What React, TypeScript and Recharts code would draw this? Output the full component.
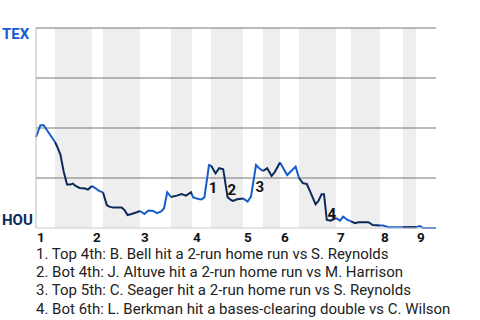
import React from 'react';
import { LineChart, Line, XAxis, YAxis, ReferenceArea, ReferenceLine, ReferenceDot } from 'recharts';

// game progress (0 = first pitch, 100 = final out) and Texas win probability (%)
const progress = [
  0, 1.1, 1.9, 4.75,
  5.25, 6.1, 6.9, 7.75, 8.6, 9.2, 9.8, 10.9, 12.3, 13, 14,
  15, 15.9, 16.75,
  17.7, 18.3, 19.3, 21.4, 22.1, 22.9, 23.9, 25.2, 26,
  27.1, 28.1, 29.3, 30.2, 31.2, 32, 32.8, 33.75,
  35.2, 36.4, 37.5, 38.75, 39,
  39.3, 40.6, 41.4, 42.1, 43.25, 43.75,
  44.9, 45.8, 46.8, 47.9, 48.7, 49.2, 50.3, 51.75,
  52.9, 53.75, 55, 55.8, 56.75,
  57.8, 58.9, 59.75, 61,
  62.8, 64.9, 65.75,
  66.7, 67.7, 68.7, 69.9, 70.6, 71.4, 72, 72.7, 73.7, 75,
  76, 76.8, 77.9, 78.75,
  79.75, 80.6, 83.1, 84.2, 86,
  86.8, 88.1, 91.75,
  95,
  96, 96.8, 100,
];
const texWinPct = [
  45.5, 51.4, 51.4, 43,
  40.9, 36.7, 28.4, 21.7, 21.7, 22.2, 21.2, 20, 19.7, 19.2, 21,
  19.7, 18.4, 17.8,
  11.5, 10.7, 10.2, 10.2, 9, 6.5, 7, 7.9, 8.5,
  7, 8.7, 8.5, 7.4, 8.2, 9.8, 17.9, 15.5,
  16.2, 17, 16.2, 17.9, 16.7,
  15.3, 14.5, 14.3, 15.3, 31.5, 31.2,
  27.3, 29.9, 29.4, 15.4, 14, 13.5, 14.4, 14.8,
  13.2, 15.7, 31.5, 29.9, 28.5,
  29.9, 26, 28.2, 32.7,
  26.5, 30.7, 25,
  22.4, 22, 17.4, 11.8, 13.5, 16.9, 16.9, 4, 3.7, 5,
  3.7, 5.7, 4, 3.3,
  2.4, 2.9, 2.9, 1.5, 1.3,
  1.2, 0.4, 0.4,
  0.4,
  1, 0, 0,
];

// start of each half inning (top 1st, bot 1st, top 2nd, ...), and game end
const halfInningStarts = [0, 4.75, 14, 16.75, 26, 33.75, 39, 43.75, 51.75, 56.75, 61, 65.75, 75, 78.75, 86, 91.75, 95];
const gameEnd = 100;
const inningLabels = ['1', '2', '3', '4', '5', '6', '7', '8', '9'];
const inningStarts = halfInningStarts.filter((_, i) => i % 2 === 0);

const gridValues = [25, 50, 75, 100];
const teamTop = 'TEX';
const teamBottom = 'HOU';

const keyPlayAt = [43.25, 47.9, 55, 72.7];
const keyPlayLabels = ['1', '2', '3', '4'];
const keyPlayTexts = [
  'Top 4th: B. Bell hit a 2-run home run vs S. Reynolds',
  'Bot 4th: J. Altuve hit a 2-run home run vs M. Harrison',
  'Top 5th: C. Seager hit a 2-run home run vs S. Reynolds',
  'Bot 6th: L. Berkman hit a bases-clearing double vs C. Wilson',
];

const BLUE = '#155ccc';
const NAVY = '#0c2b5b';
const FONT = 'Roboto, "Noto Sans", sans-serif';
const EPS = 1e-6;

const halfEnds = halfInningStarts.map((s, k) => (k + 1 < halfInningStarts.length ? halfInningStarts[k + 1] : gameEnd));

const rows = progress.map((x, i) => {
  let inTop = false;
  let inBot = false;
  halfInningStarts.forEach((s, k) => {
    if (x >= s - EPS && x <= halfEnds[k] + EPS) {
      if (k % 2 === 0) inTop = true;
      else inBot = true;
    }
  });
  const v = texWinPct[i];
  return { x, top: inTop ? v : null, bot: inBot ? v : null };
});

const keyPlayPoints = keyPlayAt.map((at, j) => {
  const i = progress.findIndex((p) => Math.abs(p - at) < EPS);
  return {
    x: (progress[i - 1] + progress[i]) / 2,
    y: (texWinPct[i - 1] + texWinPct[i]) / 2,
    label: keyPlayLabels[j],
  };
});

const XTick = (props: any) => {
  const { x, y, payload } = props;
  const idx = inningStarts.findIndex((s) => Math.abs(s - payload.value) < EPS);
  return (
    <text x={x} y={y} dx={1} dy={6} textAnchor="start" fontFamily={FONT} fontWeight="bold" fontSize={13.5} fill="#111">
      {idx >= 0 ? inningLabels[idx] : ''}
    </text>
  );
};

const YTick = (props: any) => {
  const { y, payload } = props;
  if (payload.value === 100) {
    return (
      <text x={2} y={y + 11} textAnchor="start" fontFamily={FONT} fontWeight="bold" fontSize={15} fill={BLUE}>
        {teamTop}
      </text>
    );
  }
  if (payload.value === 0) {
    return (
      <text x={2} y={y - 3} textAnchor="start" fontFamily={FONT} fontWeight="bold" fontSize={15} fill={NAVY}>
        {teamBottom}
      </text>
    );
  }
  return <g />;
};

export default function App() {
  return (
    <div style={{ position: 'absolute', left: 0, top: 0, width: 480, height: 320, background: '#fff', fontFamily: FONT }}>
      <LineChart width={480} height={250} data={rows} margin={{ top: 28, right: 44, bottom: 0, left: 0 }}>
        {halfInningStarts.map((s, k) =>
          k % 2 === 1 ? (
            <ReferenceArea key={'b' + k} x1={s} x2={halfEnds[k]} y1={0} y2={100} fill="#eeeeee" fillOpacity={1} stroke="none" ifOverflow="visible" />
          ) : null
        )}
        <XAxis
          type="number"
          dataKey="x"
          domain={[0, gameEnd]}
          ticks={inningStarts}
          interval={0}
          tick={<XTick />}
          tickLine={false}
          axisLine={{ stroke: '#cccccc' }}
          height={22}
        />
        <YAxis
          type="number"
          domain={[0, 100]}
          ticks={[0, 25, 50, 75, 100]}
          interval={0}
          width={36}
          tick={<YTick />}
          tickLine={false}
          axisLine={{ stroke: '#bbbbbb' }}
        />
        {gridValues.map((v) => (
          <ReferenceLine key={'g' + v} y={v} stroke="#777777" strokeWidth={1} ifOverflow="visible" />
        ))}
        <Line type="linear" dataKey="top" stroke={BLUE} strokeWidth={2} dot={false} activeDot={false} isAnimationActive={false} connectNulls={false} />
        <Line type="linear" dataKey="bot" stroke={NAVY} strokeWidth={2} dot={false} activeDot={false} isAnimationActive={false} connectNulls={false} />
        {keyPlayPoints.map((p) => (
          <ReferenceDot
            key={'k' + p.label}
            x={p.x}
            y={p.y}
            r={1}
            ifOverflow="visible"
            shape={(sp: any) => (
              <text x={sp.cx} y={sp.cy} dx={2} dy={11.5} textAnchor="start" fontFamily={FONT} fontWeight="bold" fontSize={15} fill="#111">
                {p.label}
              </text>
            )}
          />
        ))}
      </LineChart>
      <div style={{ position: 'absolute', left: 36, top: 245, fontSize: 15, lineHeight: '18.2px', color: '#222', whiteSpace: 'nowrap' }}>
        {keyPlayTexts.map((t, j) => (
          <div key={j}>{keyPlayLabels[j] + '. ' + t}</div>
        ))}
      </div>
    </div>
  );
}
